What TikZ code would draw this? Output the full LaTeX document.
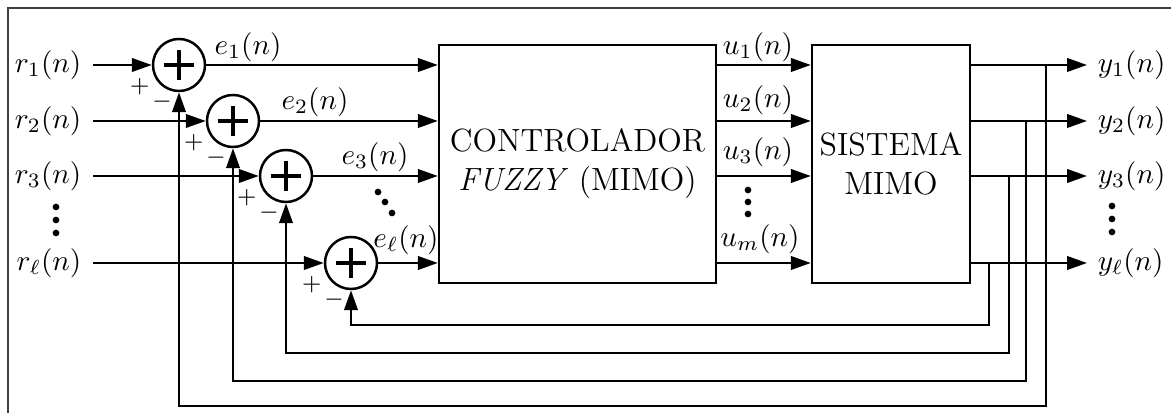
\documentclass[tikz,border=0pt]{standalone}
\usetikzlibrary{arrows.meta}
\begin{document}
\begin{tikzpicture}[x=0.3425pt,y=-0.3425pt,
  line width=0.8pt,
  >={Triangle[length=6.8pt,width=4.6pt]},
  blk/.style={draw, line width=0.8pt, inner sep=0pt, font=\fontsize{11}{13.4}\selectfont, align=center},
  sumj/.style={draw, circle, line width=0.85pt, minimum size=52*0.3425pt, inner sep=0pt},
  lbl/.style={inner sep=0pt},
  inl/.style={anchor=east, inner xsep=3.6pt, inner ysep=0pt},
  outl/.style={anchor=west, inner xsep=3.3pt, inner ysep=0pt},
  sgn/.style={inner sep=0pt, font=\fontsize{8.5}{9}\selectfont},
  plusbar/.style={line width=1.4pt}]
\useasboundingbox (0,0) rectangle (1171,413);
\draw[line width=0.6pt, black!75] (8,413) -- (8,8) -- (1171,8);

% blocks
\node[blk, minimum width=277*0.3425pt, minimum height=238*0.3425pt] (ctrl) at (577.5,164) {CONTROLADOR\\\textit{FUZZY} (MIMO)};
\node[blk, minimum width=158*0.3425pt, minimum height=238*0.3425pt] (sys) at (891,164) {SISTEMA\\MIMO};

% summing junctions
\node[sumj] (s1) at (179,65) {};
\node[sumj] (s2) at (233,121) {};
\node[sumj] (s3) at (286,176) {};
\node[sumj] (sl) at (351,263) {};
\foreach \s in {s1,s2,s3,sl}{
  \draw[plusbar] ([xshift=-5.3pt]\s.center) -- ([xshift=5.3pt]\s.center)
                 ([yshift=-5.3pt]\s.center) -- ([yshift=5.3pt]\s.center);
  \node[sgn] at ([xshift=-13.4pt,yshift=-7.5pt]\s.center) {$+$};
  \node[sgn] at ([xshift=-5.8pt,yshift=-12.7pt]\s.center) {$-$};
}

% input labels
\node[inl] (r1) at (93,65) {$r_1(n)$};
\node[inl] (r2) at (93,121) {$r_2(n)$};
\node[inl] (r3) at (93,176) {$r_3(n)$};
\node[inl] (rl) at (93,263) {$r_\ell(n)$};

% output labels
\node[outl] (y1) at (1087,65) {$y_1(n)$};
\node[outl] (y2) at (1087,121) {$y_2(n)$};
\node[outl] (y3) at (1087,176) {$y_3(n)$};
\node[outl] (yl) at (1087,263) {$y_\ell(n)$};

% error / control labels
\node[lbl] at (248,47) {$e_1(n)$};
\node[lbl] at (315,102) {$e_2(n)$};
\node[lbl] at (375,157) {$e_3(n)$};
\node[lbl] at (406,240) {$e_\ell(n)$};
\node[lbl] at (758,47) {$u_1(n)$};
\node[lbl] at (758,100) {$u_2(n)$};
\node[lbl] at (758,152) {$u_3(n)$};
\node[lbl] at (760,239) {$u_m(n)$};

% dots
\foreach \y in {207,220,233} \fill (56,\y) circle[radius=1.15pt];
\foreach \y in {190,202,214} \fill (748,\y) circle[radius=1.15pt];
\foreach \y in {206,219,232} \fill (1112,\y) circle[radius=1.15pt];
\fill (378,192) circle[radius=1.15pt] (385,202) circle[radius=1.15pt] (392,213) circle[radius=1.15pt];

% references into junctions
\draw[->] (r1) -- (s1);
\draw[->] (r2) -- (s2);
\draw[->] (r3) -- (s3);
\draw[->] (rl) -- (sl);

% errors into controller
\draw[->] (s1) -- (ctrl.west|-s1);
\draw[->] (s2) -- (ctrl.west|-s2);
\draw[->] (s3) -- (ctrl.west|-s3);
\draw[->] (sl) -- (ctrl.west|-sl);

% controls into system
\draw[->] (ctrl.east|-s1) -- (sys.west|-s1);
\draw[->] (ctrl.east|-s2) -- (sys.west|-s2);
\draw[->] (ctrl.east|-s3) -- (sys.west|-s3);
\draw[->] (ctrl.east|-sl) -- (sys.west|-sl);

% outputs
\draw[->] (sys.east|-y1) -- (y1);
\draw[->] (sys.east|-y2) -- (y2);
\draw[->] (sys.east|-y3) -- (y3);
\draw[->] (sys.east|-yl) -- (yl);

% feedback
\coordinate (t1) at (1046,65);  \coordinate (f1) at (179,406);
\coordinate (t2) at (1026,121); \coordinate (f2) at (233,381);
\coordinate (t3) at (1009,176); \coordinate (f3) at (286,353);
\coordinate (tl) at (989,263);  \coordinate (fl) at (351,325);
\draw[->] (t1) |- (f1) -- (s1);
\draw[->] (t2) |- (f2) -- (s2);
\draw[->] (t3) |- (f3) -- (s3);
\draw[->] (tl) |- (fl) -- (sl);
\end{tikzpicture}
\end{document}
